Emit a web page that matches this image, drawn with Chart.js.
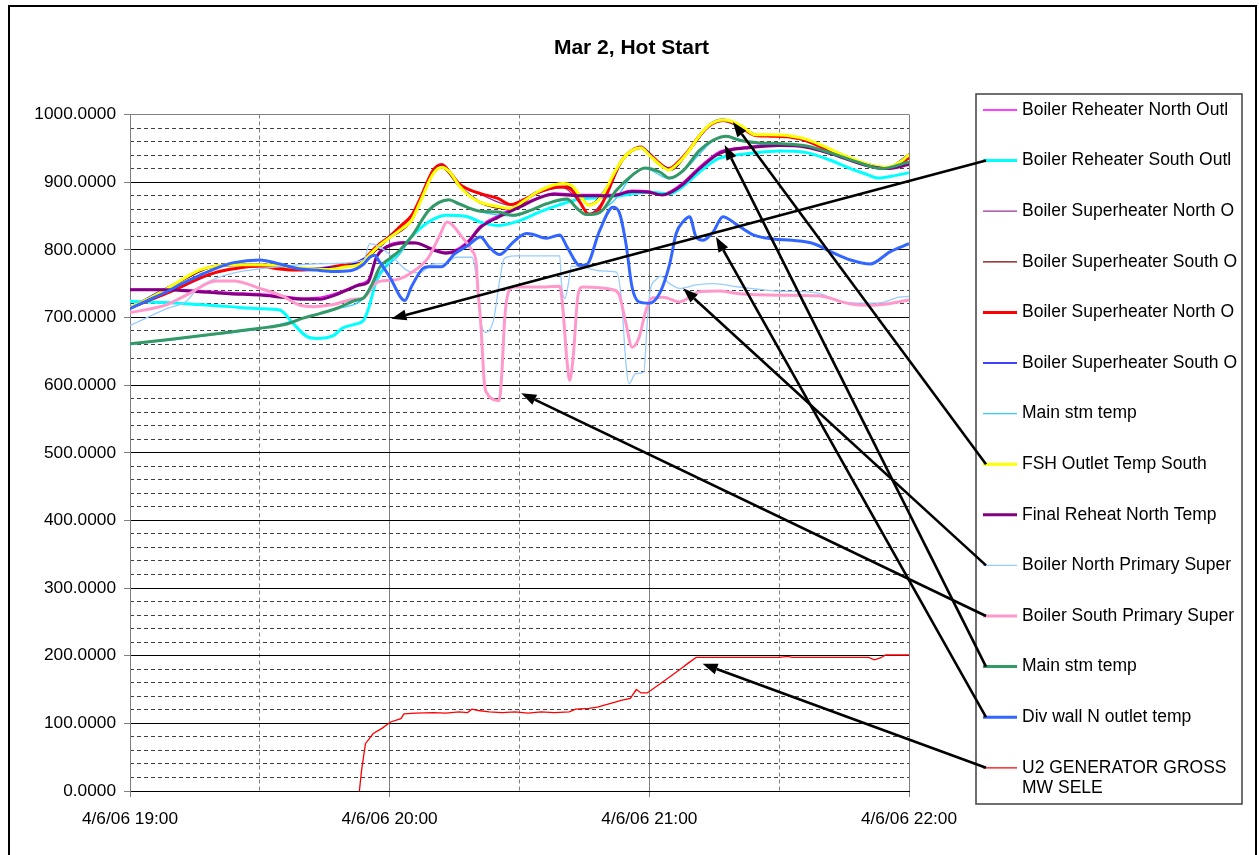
<!DOCTYPE html>
<html>
<head>
<meta charset="utf-8">
<script src="https://cdn.jsdelivr.net/npm/chart.js@4.4.1/dist/chart.umd.min.js"></script>
<style>
  html, body { margin: 0; padding: 0; background: #fff; }
  canvas { display: block; }
</style>
</head>
<body>
<canvas id="chart" width="1259" height="855"></canvas>
<script>
// Boiler temperatures and generator output during the hot start, 19:00 - 22:00.
// Every reading is a [minutes after 19:00, value] pair.

const chartTitle = 'Mar 2, Hot Start';
const timeLabels = ['4/6/06 19:00', '4/6/06 20:00', '4/6/06 21:00', '4/6/06 22:00'];

const seriesNames = [
  'Boiler Reheater North Outl',
  'Boiler Reheater South Outl',
  'Boiler Superheater North O',
  'Boiler Superheater South O',
  'Boiler Superheater North O',
  'Boiler Superheater South O',
  'Main stm temp',
  'FSH Outlet Temp South',
  'Final Reheat North Temp',
  'Boiler North Primary Super',
  'Boiler South Primary Super',
  'Main stm temp',
  'Div wall N outlet temp',
  'U2 GENERATOR GROSS MW SELE'
];

const reheaterNorthOutl = [[0,742],[8,742],[16,740],[23,737],[30,735],[35,732],[40,729],[44,730],[46,733],[50,742],[53,750],[55,756],[57,792],[60,808],[63,812],[66,811],[70,802],[73,797],[76,803],[78,813],[81,836],[85,851],[90,866],[95,879],[98,884],[104,882],[111.5,882],[116,888],[120,887],[123,883],[127,896],[131.6,923],[136,945],[139,950],[143,953],[150,956],[156,954],[162,944],[170,927],[175,921],[180,928]];

const reheaterSouthOutl = [[0,724],[8,722],[16,719],[23,716],[30,713],[34.6,711],[37.7,691],[40.8,672],[43,669],[47,673],[49,684],[52,690],[54,696],[55,711],[57,755],[60,782],[62,795],[65,819],[69,841],[73,851],[78,849],[81,841],[85,836],[90,843],[94.7,856],[99,866],[104,875],[108.5,877],[113,880],[120,885],[124.7,883],[127,890],[131.6,915],[136,935],[139,939],[144,943],[150,946],[156,944],[162,932],[166.5,920],[170,912],[173,906],[177,910],[180,914]];

const superheaterNorthThin = [[0,713],[10,739],[20,766],[30,775],[40,770],[50,777],[55,791],[60,819],[65,849],[70,916],[72,925],[76,897],[81,882],[88,866],[94,883],[100,892],[104,869],[106,853],[110,879],[114,934],[118,951],[122,929],[125,920],[129,945],[134,983],[137,990],[141,981],[145,969],[152,967],[160,951],[168,930],[175,921],[180,935]];

const superheaterSouthThin = [[0,714],[10,747],[20,775],[30,777],[40,772],[50,774],[55,789],[60,817],[65,842],[70,911],[72,921],[76,894],[81,869],[88,860],[94,884],[100,897],[104,879],[106,866],[110,889],[114,934],[118,950],[122,927],[125,918],[129,944],[134,984],[137,991],[141,982],[145,969],[152,968],[160,953],[168,931],[175,921],[180,940]];

const superheaterNorthOut = [[0,714],[5,727],[10,740],[16,758],[20,767],[24,772],[30,776],[34,772],[38,770],[42,771],[46,774],[50,778],[53,780],[55,792],[57,805],[60,820],[63,838],[65,850],[67,875],[70,917],[72,926],[74,914],[76,898],[78,890],[81,883],[85,876],[88,867],[91,874],[94,884],[97,891],[100,893],[102,889],[104,870],[106,853],[108,857],[110,880],[112,912],[114,935],[116,947],[118,952],[120,942],[122,930],[124.5,920],[127,932],[129,946],[131.5,968],[134,984],[137,991],[139,989],[141.5,980],[144.5,969],[148,968],[152,967],[156,962],[160,951],[164,940],[168,930],[172,922],[175,921],[178,928],[180,936]];

const superheaterSouthOut = [[0,715],[10,749],[20,777],[30,779],[40,773],[50,776],[55,791],[60,820],[65,845],[70,914],[72,924],[76,896],[81,871],[88,862],[94,886],[100,899],[104,881],[106,867],[110,891],[114,936],[118,952],[122,929],[125,919],[129,946],[134,986],[137,993],[141,983],[145,970],[152,969],[160,954],[168,932],[175,922],[180,942]];

const mainSteamThin = [[0,660],[10,667],[20,675],[30,683],[40,699],[48,713],[54,728],[58,768],[62,791],[65,818],[69,857],[73.7,873],[81,856],[88.5,850],[96,867],[101,874],[105.5,851],[111.6,871],[116,909],[119,920],[124.7,905],[127.8,916],[134.7,961],[137.8,967],[145,957],[156,953],[168,929],[174,919],[180,929]];

const fshOutletSouth = [[0,714],[5,730],[10,748],[16,770],[20,776],[24,778],[30,778],[34,777],[38,774],[42,772],[46,771],[50,775],[53,778],[55,790],[57,803],[60,818],[63,832],[65,843],[67,870],[70,912],[72,922],[74,914],[76,895],[78,882],[81,870],[85,864],[88,861],[91,872],[94,885],[97,894],[100,898],[102,895],[104,880],[106,866],[108,872],[110,890],[112,915],[114,935],[116,947],[118,951],[120,940],[122,928],[124.5,918],[127,930],[129,945],[131.5,968],[134,985],[137,992],[139,990],[141.5,982],[144.5,970],[148,970],[152,969],[156,964],[160,954],[164,942],[168,932],[172,924],[175,922],[178,930],[180,941]];

const finalReheatNorth = [[0,741],[8,741],[16,738],[23,735],[30,733],[35,730],[40,727],[44,727],[46,730],[50,740],[53,748],[55,752],[57,790],[59,803],[60,806],[63,810],[66,810],[70,800],[73,795],[76,800],[78,810],[81,833],[85,848],[90,863],[94.7,877],[97.7,882],[104,880],[111.5,880],[116,886],[120,885],[123,881],[127,893],[131.6,920],[136,942],[139,948],[143,951],[150,954],[156,952],[162,942],[170,925],[175,920],[180,926]];

const northPrimarySuper = [[0,688],[8.5,713],[13,724],[16,745],[20,758],[24,766],[30,772],[36,776],[42,779],[48,780],[54,785],[55.4,809],[57.7,804],[60.8,789],[63.9,770],[67,766],[70,779],[73,780],[75.3,789],[79,789],[80,760],[81,696],[82,678],[84,696],[85.3,750],[86.5,787],[88.8,791],[99.3,791],[99.7,750],[100.5,728],[101.3,750],[102,776],[104.6,775],[108.5,769],[112.4,767],[113.5,730],[114.6,632],[115.3,602],[116.8,617],[118.7,619],[119.5,691],[120.2,740],[121.4,755],[122.6,761],[124.7,750],[127,743],[130.8,748],[134.7,750],[140.8,745],[150,739],[159,736],[163.7,724],[170,721],[173.7,722],[177.6,730],[180,731]];

const southPrimarySuper = [[0,707],[8.5,719],[13,733],[20,754],[24,754],[30,743],[35.4,731],[39.3,718],[42.4,716],[47,719],[51.6,727],[54,729],[57,752],[60,755],[62.3,757],[65,766],[69,789],[71.4,819],[73.3,841],[76.7,819],[79,799],[80,780],[80.4,740],[81,696],[81.9,602],[82.6,587],[84.2,578],[85.3,577],[85.9,616],[86.6,700],[87.6,740],[88.8,745],[94,745],[99.3,746],[100,715],[100.9,641],[101.6,607],[102.4,641],[103.5,732],[104.6,745],[111.6,741],[113,734],[114.6,691],[116,656],[117.6,670],[119.2,710],[120.7,729],[123.2,730],[127,723],[131.6,738],[136,739],[140.8,735],[150,733],[159,732],[166.5,720],[171,718],[176,721],[180,726]];

const mainSteamTemp = [[0,661],[10,668],[20,676],[30,684],[36,690],[40,699],[44,706],[48,714],[52,725],[54,729],[56,750],[57.7,774],[60,787],[62.3,799],[65,819],[69,858],[71.4,870],[73.7,874],[76,868],[81,857],[85,856],[88.5,851],[92.4,858],[96.2,868],[101,875],[103.3,861],[105.5,852],[108.5,855],[112.4,888],[116,910],[119,921],[122.4,915],[124.7,906],[127.8,917],[131.6,947],[134.7,962],[137.8,968],[140.8,962],[145.4,958],[150,957],[156,954],[162,943],[168,930],[173.7,920],[180,930]];

const divWallOutlet = [[0,713],[4,725],[8.5,738],[12,750],[16,762],[20,773],[24,781],[30,785],[34.6,779],[39,772],[43,770],[47,768],[50.8,769],[54,779],[55.4,789],[56.5,792],[57.7,782],[60,760],[63.5,725],[65,745],[67.6,772],[69,775],[72,775],[75,794],[78,806],[81,819],[83,804],[85.4,793],[88.5,811],[91.6,824],[93,823],[96.2,817],[99.3,822],[101,804],[104,777],[105.5,778],[108.5,828],[111.6,863],[113,856],[114.6,809],[116,745],[117.6,723],[120,721],[122.4,736],[124.7,779],[126.2,824],[128,843],[129.3,849],[130.8,819],[132.4,814],[134.7,826],[137,849],[140,838],[144,822],[148.6,816],[153,814],[158,809],[162,797],[166.5,785],[171,779],[175.6,797],[180,809]];

const generatorGrossMW = [[53,0],[53.5,30],[54.4,70],[56.2,85],[58.3,93],[60.2,102],[62.6,107],[63.3,114],[66,115],[70,116],[73,115],[76,117],[78,116],[79,121],[80.5,119],[83,117],[86,116],[89,117],[92,115],[95,117],[98,116],[101.5,117],[103,121],[106,122],[108,124],[111.3,130],[113.5,134],[115.6,137],[117,150],[118.1,145],[119.5,145],[122.6,159],[125,170],[126.9,179],[129,189],[130.8,197.5],[150,197.5],[152,199],[153,197.5],[170.7,197.5],[172,194],[173.5,197],[174.6,201],[180,201]];

const seriesValues = [
  reheaterNorthOutl, reheaterSouthOutl, superheaterNorthThin, superheaterSouthThin,
  superheaterNorthOut, superheaterSouthOut, mainSteamThin, fshOutletSouth,
  finalReheatNorth, northPrimarySuper, southPrimarySuper, mainSteamTemp,
  divWallOutlet, generatorGrossMW
];

// Callout arrows: legend row -> [minute, value] on the plot
const calloutTargets = [
  [1, 60.4, 698],
  [7, 139.3, 989],
  [9, 127.8, 743],
  [10, 90.4, 588],
  [11, 137.4, 955],
  [12, 135.4, 819],
  [13, 132.3, 188]
];

const lineStyles = [
  { color: '#FF00FF', width: 1.3 },
  { color: '#00FFFF', width: 3 },
  { color: '#993399', width: 1.3 },
  { color: '#800000', width: 1.3 },
  { color: '#FF0000', width: 3 },
  { color: '#0000FF', width: 1.3 },
  { color: '#33CCFF', width: 1.3 },
  { color: '#FFFF00', width: 3 },
  { color: '#800080', width: 3 },
  { color: '#99CCFF', width: 1.3 },
  { color: '#FF99CC', width: 3 },
  { color: '#339966', width: 3 },
  { color: '#3366FF', width: 3 },
  { color: '#FF0000', width: 1.3 }
];

const FONT = "'Liberation Sans', Arial, Helvetica, sans-serif";
Chart.defaults.font.family = FONT;
Chart.defaults.color = '#000';

const datasets = seriesValues.map((vals, i) => ({
  label: seriesNames[i],
  data: vals.map(([x, y]) => ({ x, y })),
  borderColor: lineStyles[i].color,
  backgroundColor: lineStyles[i].color,
  borderWidth: lineStyles[i].width,
  pointRadius: 0,
  fill: false,
  order: -i,
  cubicInterpolationMode: i === 13 ? 'default' : 'monotone',
  tension: i === 13 ? 0 : 0.4
}));

function wrapText(ctx, text, maxWidth) {
  const words = text.split(' ');
  const lines = [];
  let cur = '';
  for (const w of words) {
    const test = cur ? cur + ' ' + w : w;
    if (ctx.measureText(test).width > maxWidth && cur) {
      lines.push(cur);
      cur = w;
    } else {
      cur = test;
    }
  }
  if (cur) lines.push(cur);
  return lines;
}

const legendBox = { left: 976, top: 94, right: 1242, bottom: 804, firstRow: 110, rowGap: 50.6, sampleX0: 983, sampleX1: 1017, textX: 1022 };

const decorations = {
  id: 'decorations',
  beforeDraw(chart) {
    const ctx = chart.ctx;
    ctx.save();
    ctx.fillStyle = '#fff';
    ctx.fillRect(0, 0, chart.width, chart.height);
    ctx.restore();
  },
  afterDraw(chart) {
    const ctx = chart.ctx;
    const xs = chart.scales.x, ys = chart.scales.y;
    ctx.save();

    // outer frame
    ctx.strokeStyle = '#000';
    ctx.lineWidth = 2;
    ctx.strokeRect(9, 6, 1247, 880);

    // title, centred on the whole frame
    ctx.fillStyle = '#000';
    ctx.font = 'bold 21px ' + FONT;
    ctx.textAlign = 'center';
    ctx.textBaseline = 'middle';
    ctx.fillText(chartTitle, chart.width / 2 + 2, 48);

    // legend
    const L = legendBox;
    ctx.fillStyle = '#fff';
    ctx.fillRect(L.left, L.top, L.right - L.left, L.bottom - L.top);
    ctx.strokeStyle = '#404040';
    ctx.lineWidth = 1.5;
    ctx.strokeRect(L.left, L.top, L.right - L.left, L.bottom - L.top);
    ctx.font = '17.5px ' + FONT;
    ctx.textBaseline = 'middle';
    ctx.textAlign = 'left';
    chart.data.datasets.forEach((ds, i) => {
      const y = L.firstRow + i * L.rowGap;
      ctx.strokeStyle = ds.borderColor;
      ctx.lineWidth = ds.borderWidth;
      ctx.beginPath();
      ctx.moveTo(L.sampleX0, y);
      ctx.lineTo(L.sampleX1, y);
      ctx.stroke();
      ctx.fillStyle = '#000';
      const lines = wrapText(ctx, ds.label, L.right - L.textX - 4);
      lines.forEach((ln, k) => ctx.fillText(ln, L.textX, y + k * 20.5));
    });

    // callout arrows
    ctx.strokeStyle = '#000';
    ctx.fillStyle = '#000';
    ctx.lineWidth = 2.6;
    calloutTargets.forEach(([row, minute, value]) => {
      const x0 = L.sampleX0 + 3, y0 = L.firstRow + row * L.rowGap;
      const x1 = xs.getPixelForValue(minute), y1 = ys.getPixelForValue(value);
      const ang = Math.atan2(y1 - y0, x1 - x0);
      const headLen = 15, headHalf = 5.5;
      const bx = x1 - headLen * Math.cos(ang), by = y1 - headLen * Math.sin(ang);
      ctx.beginPath();
      ctx.moveTo(x0, y0);
      ctx.lineTo(bx, by);
      ctx.stroke();
      ctx.beginPath();
      ctx.moveTo(x1, y1);
      ctx.lineTo(bx + headHalf * Math.sin(ang), by - headHalf * Math.cos(ang));
      ctx.lineTo(bx - headHalf * Math.sin(ang), by + headHalf * Math.cos(ang));
      ctx.closePath();
      ctx.fill();
    });
    ctx.restore();
  }
};

const CLEAR = 'rgba(0,0,0,0)';

new Chart(document.getElementById('chart'), {
  type: 'line',
  data: { datasets },
  options: {
    responsive: false,
    animation: false,
    devicePixelRatio: 1,
    layout: { padding: { left: 35, right: 350, top: 114.5, bottom: 24 } },
    plugins: {
      legend: { display: false },
      tooltip: { enabled: false },
      title: { display: false }
    },
    scales: {
      x: {
        type: 'linear',
        position: 'bottom',
        min: 0,
        max: 180,
        afterFit: s => { s.height = 40; },
        ticks: {
          stepSize: 60,
          autoSkip: false,
          maxRotation: 0,
          padding: 12,
          color: '#000',
          font: { size: 17.3 },
          callback: v => timeLabels[Math.round(v / 60)] ?? ''
        },
        grid: {
          color: c => (c.tick && c.tick.value === 0) ? CLEAR : '#808080',
          tickColor: '#808080',
          tickLength: 6,
          lineWidth: 1
        },
        border: { color: '#000', width: 1 }
      },
      x2: {
        type: 'linear',
        position: 'bottom',
        min: 0,
        max: 180,
        ticks: { display: false, stepSize: 30 },
        grid: {
          color: c => (c.tick && c.tick.value % 60 === 0) ? CLEAR : '#808080',
          drawTicks: false,
          lineWidth: 1
        },
        border: { display: false, dash: [4, 3] }
      },
      y: {
        type: 'linear',
        position: 'left',
        min: 0,
        max: 1000,
        afterFit: s => { s.width = 95; },
        ticks: {
          stepSize: 100,
          padding: 8,
          color: '#000',
          font: { size: 17.3 },
          callback: v => Number(v).toFixed(4)
        },
        grid: {
          color: c => (c.tick && c.tick.value === 1000) ? '#808080' : '#000',
          tickColor: '#808080',
          tickLength: 6,
          lineWidth: 1
        },
        border: { color: '#808080', width: 1 }
      },
      y2: {
        type: 'linear',
        position: 'left',
        min: 0,
        max: 1000,
        ticks: { display: false, stepSize: 20 },
        grid: {
          color: c => (c.tick && c.tick.value % 100 === 0) ? CLEAR : '#404040',
          drawTicks: false,
          lineWidth: 1
        },
        border: { display: false, dash: [4, 3] }
      }
    }
  },
  plugins: [decorations]
});
</script>
</body>
</html>
